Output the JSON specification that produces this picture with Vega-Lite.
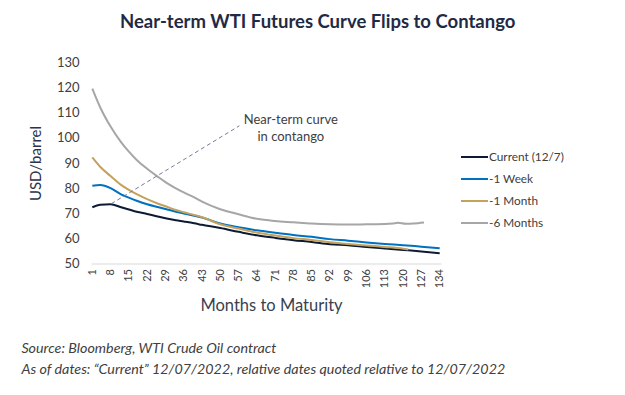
{
  "$schema": "https://vega.github.io/schema/vega-lite/v6.json",
  "background": "white",
  "padding": {"left": 21, "top": 12.5, "right": 5, "bottom": 5},
  "title": {
    "text": "Near-term WTI Futures Curve Flips to Contango",
    "font": "Lato",
    "fontSize": 18.5,
    "fontWeight": "bold",
    "color": "#1f2a44",
    "anchor": "middle",
    "offset": 25,
    "dx": 25
  },
  "resolve": {"scale": {"color": "independent"}},
  "datasets": {
    "curves": [
      {"m": 1, "s": "Current (12/7)", "v": 72.4}, {"m": 4, "s": "Current (12/7)", "v": 73.4}, {"m": 8, "s": "Current (12/7)", "v": 73.6}, {"m": 12, "s": "Current (12/7)", "v": 72.4}, {"m": 15, "s": "Current (12/7)", "v": 71.5}, {"m": 18, "s": "Current (12/7)", "v": 70.6}, {"m": 22, "s": "Current (12/7)", "v": 69.7}, {"m": 26, "s": "Current (12/7)", "v": 68.7}, {"m": 29, "s": "Current (12/7)", "v": 68.0}, {"m": 33, "s": "Current (12/7)", "v": 67.2}, {"m": 36, "s": "Current (12/7)", "v": 66.7}, {"m": 40, "s": "Current (12/7)", "v": 66.0}, {"m": 43, "s": "Current (12/7)", "v": 65.4}, {"m": 50, "s": "Current (12/7)", "v": 64.1}, {"m": 57, "s": "Current (12/7)", "v": 62.6}, {"m": 64, "s": "Current (12/7)", "v": 61.2}, {"m": 71, "s": "Current (12/7)", "v": 60.2}, {"m": 78, "s": "Current (12/7)", "v": 59.3}, {"m": 85, "s": "Current (12/7)", "v": 58.6}, {"m": 92, "s": "Current (12/7)", "v": 57.7}, {"m": 99, "s": "Current (12/7)", "v": 57.3}, {"m": 106, "s": "Current (12/7)", "v": 56.6}, {"m": 113, "s": "Current (12/7)", "v": 56.0}, {"m": 120, "s": "Current (12/7)", "v": 55.4}, {"m": 127, "s": "Current (12/7)", "v": 54.8}, {"m": 134, "s": "Current (12/7)", "v": 54.1},
      {"m": 1, "s": "-1 Week", "v": 80.9}, {"m": 4, "s": "-1 Week", "v": 81.2}, {"m": 8, "s": "-1 Week", "v": 80.0}, {"m": 12, "s": "-1 Week", "v": 77.5}, {"m": 15, "s": "-1 Week", "v": 76.2}, {"m": 18, "s": "-1 Week", "v": 75.0}, {"m": 22, "s": "-1 Week", "v": 73.6}, {"m": 26, "s": "-1 Week", "v": 72.5}, {"m": 29, "s": "-1 Week", "v": 71.7}, {"m": 33, "s": "-1 Week", "v": 70.6}, {"m": 36, "s": "-1 Week", "v": 69.9}, {"m": 40, "s": "-1 Week", "v": 69.0}, {"m": 43, "s": "-1 Week", "v": 68.3}, {"m": 50, "s": "-1 Week", "v": 65.9}, {"m": 57, "s": "-1 Week", "v": 64.4}, {"m": 64, "s": "-1 Week", "v": 63.2}, {"m": 71, "s": "-1 Week", "v": 62.2}, {"m": 78, "s": "-1 Week", "v": 61.3}, {"m": 85, "s": "-1 Week", "v": 60.6}, {"m": 92, "s": "-1 Week", "v": 59.7}, {"m": 99, "s": "-1 Week", "v": 59.1}, {"m": 106, "s": "-1 Week", "v": 58.4}, {"m": 113, "s": "-1 Week", "v": 57.8}, {"m": 120, "s": "-1 Week", "v": 57.3}, {"m": 127, "s": "-1 Week", "v": 56.7}, {"m": 134, "s": "-1 Week", "v": 56.1},
      {"m": 1, "s": "-1 Month", "v": 92.2}, {"m": 4, "s": "-1 Month", "v": 88.5}, {"m": 8, "s": "-1 Month", "v": 84.8}, {"m": 12, "s": "-1 Month", "v": 81.3}, {"m": 15, "s": "-1 Month", "v": 79.3}, {"m": 18, "s": "-1 Month", "v": 77.6}, {"m": 22, "s": "-1 Month", "v": 75.6}, {"m": 26, "s": "-1 Month", "v": 73.9}, {"m": 29, "s": "-1 Month", "v": 72.8}, {"m": 33, "s": "-1 Month", "v": 71.3}, {"m": 36, "s": "-1 Month", "v": 70.4}, {"m": 40, "s": "-1 Month", "v": 69.3}, {"m": 43, "s": "-1 Month", "v": 68.4}, {"m": 50, "s": "-1 Month", "v": 65.6}, {"m": 57, "s": "-1 Month", "v": 63.9}, {"m": 64, "s": "-1 Month", "v": 62.3}, {"m": 71, "s": "-1 Month", "v": 61.1}, {"m": 78, "s": "-1 Month", "v": 60.1}, {"m": 85, "s": "-1 Month", "v": 59.4}, {"m": 92, "s": "-1 Month", "v": 58.5}, {"m": 99, "s": "-1 Month", "v": 57.8}, {"m": 106, "s": "-1 Month", "v": 57.2}, {"m": 113, "s": "-1 Month", "v": 56.6}, {"m": 120, "s": "-1 Month", "v": 55.9}, {"m": 122, "s": "-1 Month", "v": 55.6},
      {"m": 1, "s": "-6 Months", "v": 119.6}, {"m": 4, "s": "-6 Months", "v": 112.2}, {"m": 8, "s": "-6 Months", "v": 104.5}, {"m": 12, "s": "-6 Months", "v": 98.3}, {"m": 15, "s": "-6 Months", "v": 94.5}, {"m": 18, "s": "-6 Months", "v": 91.2}, {"m": 22, "s": "-6 Months", "v": 87.7}, {"m": 26, "s": "-6 Months", "v": 84.6}, {"m": 29, "s": "-6 Months", "v": 82.4}, {"m": 33, "s": "-6 Months", "v": 79.9}, {"m": 36, "s": "-6 Months", "v": 78.3}, {"m": 40, "s": "-6 Months", "v": 76.3}, {"m": 43, "s": "-6 Months", "v": 74.6}, {"m": 50, "s": "-6 Months", "v": 71.6}, {"m": 57, "s": "-6 Months", "v": 69.6}, {"m": 64, "s": "-6 Months", "v": 67.8}, {"m": 71, "s": "-6 Months", "v": 66.9}, {"m": 78, "s": "-6 Months", "v": 66.4}, {"m": 85, "s": "-6 Months", "v": 65.9}, {"m": 92, "s": "-6 Months", "v": 65.6}, {"m": 99, "s": "-6 Months", "v": 65.5}, {"m": 106, "s": "-6 Months", "v": 65.6}, {"m": 113, "s": "-6 Months", "v": 65.7}, {"m": 116, "s": "-6 Months", "v": 65.9}, {"m": 118, "s": "-6 Months", "v": 66.2}, {"m": 121, "s": "-6 Months", "v": 65.8}, {"m": 124, "s": "-6 Months", "v": 65.9}, {"m": 128, "s": "-6 Months", "v": 66.3}
    ],
    "arrow": [{"m": 8.3, "v": 73.8, "m2": 57.3, "v2": 104.8}],
    "note": [{"m": 77, "v": 107.3, "t": "Near-term curve"}, {"m": 77, "v": 100.5, "t": "in contango"}]
  },
  "vconcat": [
    {
      "width": 350,
      "height": 201,
      "title": {
        "text": ["Source: Bloomberg, WTI Crude Oil contract", "As of dates: “Current” 12/07/2022, relative dates quoted relative to 12/07/2022"],
        "orient": "bottom",
        "anchor": "start",
        "frame": "bounds",
        "font": "Lato",
        "fontSize": 14.3,
        "fontStyle": "italic",
        "fontWeight": "normal",
        "color": "#404040",
        "lineHeight": 21,
        "offset": 28,
        "dx": -7
      },
      "encoding": {
        "x": {
          "field": "m", "type": "quantitative",
          "scale": {"domain": [0.5, 134.5], "nice": false, "zero": false},
          "axis": {
            "title": "Months to Maturity",
            "values": [1, 8, 15, 22, 29, 36, 43, 50, 57, 64, 71, 78, 85, 92, 99, 106, 113, 120, 127, 134],
            "labelAngle": -90, "labelFont": "Lato", "labelFontSize": 11, "labelColor": "#404040",
            "labelOverlap": false, "labelBound": false, "labelFlush": false,
            "labelPadding": 5, "ticks": false, "grid": false,
            "domainColor": "#d9d9d9", "domainWidth": 1,
            "titleFont": "Lato", "titleFontSize": 16.5, "titleFontWeight": "normal", "titleColor": "#3a3f50", "titlePadding": 10, "titleX": 180
          }
        },
        "y": {
          "field": "v", "type": "quantitative",
          "scale": {"domain": [50, 130], "nice": false, "zero": false},
          "axis": {
            "title": "USD/barrel",
            "values": [50, 60, 70, 80, 90, 100, 110, 120, 130],
            "labelFont": "Lato", "labelFontSize": 13, "labelColor": "#404040",
            "labelOverlap": false, "labelBound": false, "labelFlush": false,
            "labelPadding": 12, "ticks": false, "grid": false, "domain": false,
            "titleFont": "Lato", "titleFontSize": 15, "titleFontWeight": "normal", "titleColor": "#2b3448", "titlePadding": 13
          }
        }
      },
      "layer": [
        {
          "data": {"name": "curves"},
          "mark": {"type": "line", "strokeWidth": 2, "interpolate": "monotone"},
          "encoding": {
            "color": {
              "field": "s", "type": "nominal",
              "scale": {"domain": ["Current (12/7)", "-1 Week", "-1 Month", "-6 Months"], "range": ["#0d1a33", "#0070c0", "#c2a25e", "#a6a6a6"]},
              "legend": {
                "title": null, "orient": "none", "legendX": 369, "legendY": 80,
                "symbolType": "stroke", "symbolSize": 729, "symbolStrokeWidth": 2,
                "labelFont": "Lato", "labelFontSize": 11.8, "labelColor": "#404040", "labelOffset": 0,
                "rowPadding": -1
              }
            }
          }
        },
        {
          "data": {"name": "arrow"},
          "mark": {"type": "rule", "strokeDash": [4, 3], "color": "#7a7a9a", "strokeWidth": 1},
          "encoding": {
            "x2": {"field": "m2"},
            "y2": {"field": "v2"}
          }
        },
        {
          "data": {"name": "note"},
          "mark": {"type": "text", "font": "Lato", "fontSize": 13, "color": "#404040", "align": "center", "baseline": "middle"},
          "encoding": {
            "text": {"field": "t"}
          }
        }
      ]
    }
  ],
  "config": {"view": {"stroke": null}}
}
